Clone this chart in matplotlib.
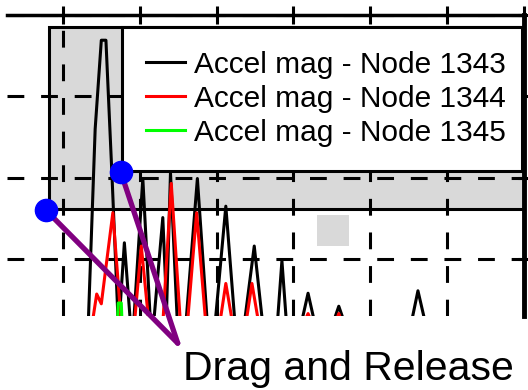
import matplotlib.pyplot as plt
from matplotlib.patches import Rectangle

# accel magnitude traces (x in grid units, y in grid units)
t_1343 = [0.33, 0.42, 0.50, 0.56, 0.64, 0.72,
          0.73, 0.80, 0.88,
          0.92, 1.04, 1.14,
          1.18, 1.30, 1.35, 1.40, 1.49,
          1.60, 1.75, 1.88,
          1.98, 2.12, 2.24,
          2.36, 2.49, 2.60,
          2.79, 2.85, 2.91,
          3.10, 3.19, 3.28,
          3.51, 3.59, 3.67,
          4.53, 4.62, 4.72]
a_1343 = [0.2, 2.6, 3.69, 3.69, 2.0, 0.2,
          0.2, 1.2, 0.2,
          0.2, 1.99, 0.2,
          0.2, 1.51, 0.4, 2.06, 0.2,
          0.2, 1.99, 0.2,
          0.2, 1.65, 0.2,
          0.2, 1.16, 0.2,
          0.2, 0.98, 0.2,
          0.2, 0.58, 0.2,
          0.2, 0.42, 0.2,
          0.2, 0.61, 0.2]

t_1344 = [0.38, 0.44, 0.50, 0.65, 0.76,
          0.93, 1.02, 1.12,
          1.30, 1.41, 1.53,
          1.62, 1.74, 1.86,
          2.04, 2.12, 2.21,
          2.38, 2.46, 2.55,
          3.13, 3.19, 3.25,
          3.54, 3.59, 3.64]
a_1344 = [0.2, 0.57, 0.45, 1.57, 0.2,
          0.2, 1.16, 0.2,
          0.2, 1.93, 0.2,
          0.2, 1.57, 0.2,
          0.2, 0.70, 0.2,
          0.2, 0.70, 0.2,
          0.2, 0.33, 0.2,
          0.2, 0.33, 0.2]

t_1345 = [0.71, 0.72, 0.76, 0.77]
a_1345 = [0.2, 0.46, 0.46, 0.2]

labels = ['Accel mag - Node 1343', 'Accel mag - Node 1344', 'Accel mag - Node 1345']
colors = ['#000000', '#ff0000', '#00ff00']

# drag handles: corner of the selection box and corner of the legend
handle_t = [-0.22, 0.753]
handle_a = [1.60, 2.069]
target_t, target_a = 1.494, -0.034

fig = plt.figure(figsize=(5.28, 3.9), dpi=100)
ax = fig.add_axes([7 / 528, 74 / 390, 517 / 528, 301 / 390])
ax.set_xlim(-56 / 77, 6)
ax.set_ylim(0.3, 4)

# selection rectangle + small gray box
ax.add_patch(Rectangle((-0.18, 1.61), 6.18, 2.24, facecolor='#d9d9d9',
                       edgecolor='black', lw=2.2, zorder=0.2))
ax.add_patch(Rectangle((3.312, 1.159), 0.415, 0.381, facecolor='#d9d9d9',
                       edgecolor='none', zorder=0.2))

ax.set_axisbelow(True)
ax.set_xticks(range(0, 7))
ax.set_yticks([1, 2, 3, 4])
ax.grid(True, color='black', lw=2.2, linestyle=(0, (5.5, 5.5)))
ax.xaxis.tick_top()
ax.yaxis.tick_right()
ax.tick_params(axis='x', direction='inout', length=13, width=2.2,
               labeltop=False, labelbottom=False)
ax.tick_params(axis='y', direction='inout', length=8, width=2.2,
               labelright=False, labelleft=False)
for s in ['left', 'bottom']:
    ax.spines[s].set_visible(False)
ax.spines['top'].set_linewidth(2.5)
ax.spines['right'].set_linewidth(3.5)

lines = []
for t, a, c, lab in zip([t_1343, t_1344, t_1345], [a_1343, a_1344, a_1345],
                        colors, labels):
    ln, = ax.plot(t, a, color=c, lw=2.2, label=lab, zorder=3)
    lines.append(ln)

leg = ax.legend(handles=lines, loc='upper left',
                bbox_to_anchor=(122 / 528, 0.5, 400 / 528, 1 - 27 / 390 - 0.5),
                bbox_transform=fig.transFigure, mode='expand', borderaxespad=0,
                prop={'family': 'Liberation Sans', 'size': 21.5},
                handlelength=1.3, handletextpad=0.3, borderpad=0.8,
                labelspacing=0.2, fancybox=False, framealpha=1,
                edgecolor='black')
leg.get_frame().set_linewidth(2.2)
leg.set_zorder(5)

# purple pointers from the drag handles to the caption
for ht, ha in zip(handle_t, handle_a):
    ax.plot([ht, target_t], [ha, target_a], color='#800080', lw=3.8,
            clip_on=False, zorder=6, solid_capstyle='round')
ax.plot(handle_t, handle_a, 'o', color='#0000ff', ms=16, clip_on=False,
        zorder=7, ls='none')

fig.text(183 / 528, 1 - 380 / 390, 'Drag and Release', family='Liberation Sans',
         size=29.5, va='baseline', ha='left')

fig.savefig('out.png', dpi=100)
